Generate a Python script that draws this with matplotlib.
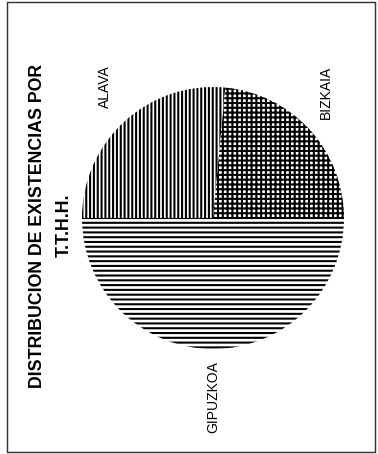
import matplotlib
matplotlib.use('Agg')
import matplotlib.pyplot as plt
from matplotlib.patches import Rectangle

# shares (per cent)
provincias = ['ALAVA', 'BIZKAIA', 'GIPUZKOA']
valores = [26.5, 23.5, 50.0]
tramas = ['|||||', '++++', '----']
titulo1 = 'DISTRIBUCION DE EXISTENCIAS POR'
titulo2 = 'T.T.H.H.'

plt.rcParams['font.family'] = ['Liberation Sans', 'DejaVu Sans']
plt.rcParams['hatch.linewidth'] = 1.3
plt.rcParams['hatch.color'] = 'black'

# dpi chosen so the hatch spacing matches the scan
DPI = 115
W, H = 378, 454
fig = plt.figure(figsize=(W / DPI, H / DPI), dpi=DPI)

# pie centre (213, 218) px, radius 131 px
cx, cy, r = 213, 218, 131
ax = fig.add_axes([(cx - r) / W, (H - cy - r) / H, 2 * r / W, 2 * r / H])
wedges, _ = ax.pie(valores, startangle=180, counterclock=False,
                   colors=['white'] * 3,
                   wedgeprops=dict(edgecolor='black', linewidth=0))
for w, h in zip(wedges, tramas):
    w.set_hatch(h)
ax.set_xlim(-1, 1)
ax.set_ylim(-1, 1)
ax.axis('off')

# frame of the scanned sheet
fig.patches.append(Rectangle((7 / W, 2 / H), (375 - 7) / W, (452 - 2) / H,
                             transform=fig.transFigure, fill=False,
                             edgecolor='#333333', linewidth=0.9))

def fx(x):
    return x / W

def fy(y):
    return 1 - y / H

fig.text(fx(38), fy(226), titulo1, rotation=90, ha='center', va='center',
         fontsize=11.1, fontweight='bold')
fig.text(fx(64), fy(225), titulo2, rotation=90, ha='center', va='center',
         fontsize=11.1, fontweight='bold')

etiq_pos = [(105, 87), (326, 92), (213, 397)]
for nombre, (x, y) in zip(provincias, etiq_pos):
    fig.text(fx(x), fy(y), nombre, rotation=90, ha='center', va='center',
             fontsize=8.7)

fig.savefig('out.png', dpi=DPI, facecolor='white')
